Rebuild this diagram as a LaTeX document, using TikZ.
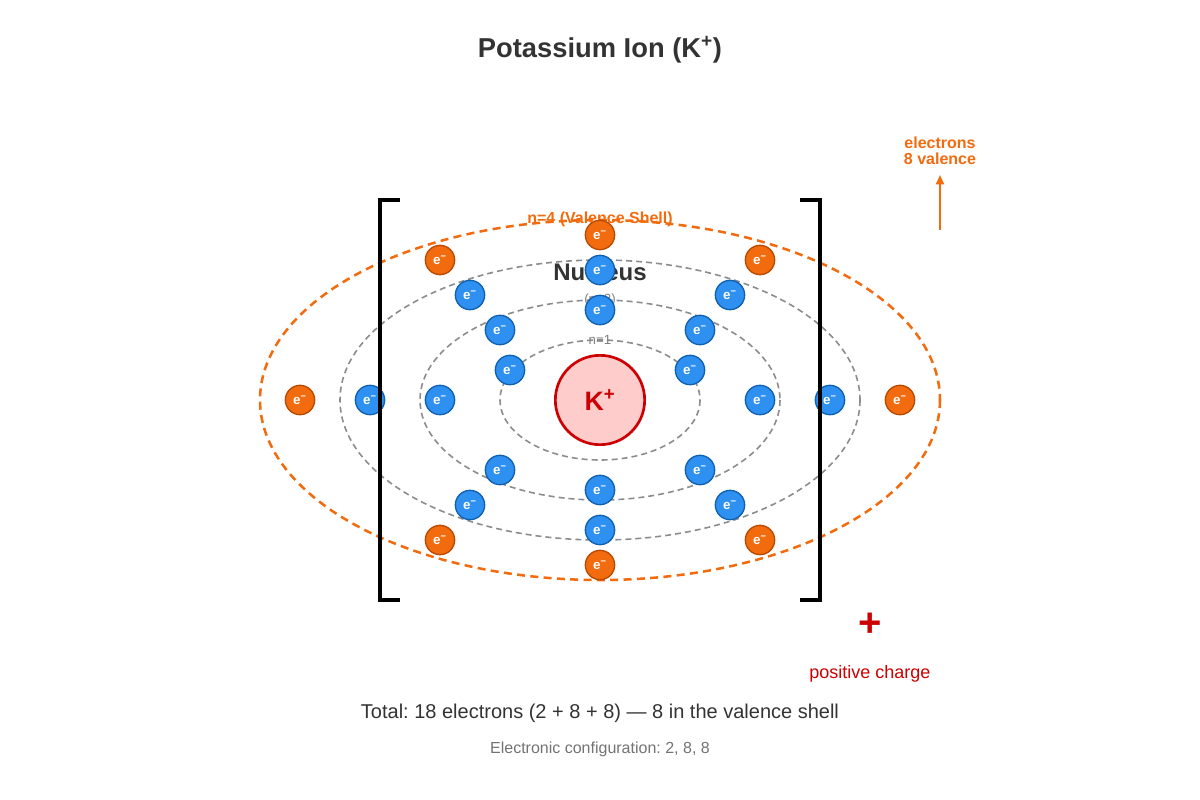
\documentclass[tikz,border=0pt]{standalone}
\usepackage{fontspec}
\setmainfont{Liberation Sans}
\frenchspacing
\usetikzlibrary{arrows.meta}
\definecolor{orng}{HTML}{F26B0F}
\definecolor{blu}{HTML}{2E90F0}
\definecolor{dblu}{HTML}{1060B0}
\definecolor{dorng}{HTML}{B84A00}
\definecolor{kred}{HTML}{CC0000}
\definecolor{kfill}{HTML}{FFCCCC}
\definecolor{txt}{HTML}{333333}
\newcommand{\elec}{e\textsuperscript{\textminus}}
\begin{document}
\begin{tikzpicture}[x=0.75pt,y=-0.75pt,
  shell/.style={draw=gray!90,dashed,line width=1.2pt,dash pattern=on 4.5pt off 3pt},
  vshell/.style={draw=orng,line width=1.9pt,dash pattern=on 6pt off 4pt},
  eb/.style={circle,draw=dblu,fill=blu,line width=1pt,minimum size=22pt,inner sep=0pt,text=white,font=\fontsize{10}{10}\selectfont\bfseries},
  eo/.style={circle,draw=dorng,fill=orng,line width=1pt,minimum size=22pt,inner sep=0pt,text=white,font=\fontsize{10}{10}\selectfont\bfseries},
  brk/.style={line width=3pt}]
\useasboundingbox (0,0) rectangle (1200,800);
\node[font=\fontsize{20.5}{24}\selectfont\bfseries,text=txt] (title) at (600,50) {Potassium Ion (K\textsuperscript{+})};
\draw[vshell] (600,400) ellipse [x radius=340,y radius=180];
\draw[shell] (600,400) ellipse [x radius=260,y radius=140];
\draw[shell] (600,400) ellipse [x radius=180,y radius=100];
\draw[shell] (600,400) ellipse [x radius=100,y radius=60];
\node[font=\fontsize{12}{14}\selectfont\bfseries,text=orng] (l4) at (600,219) {n=4 (Valence Shell)};
\node[font=\fontsize{18}{20}\selectfont\bfseries,text=txt] (nuc) at (600,272) {Nucleus};
\node[font=\fontsize{10}{12}\selectfont,text=gray] (l2) at (600,300) {(n=2)};
\node[font=\fontsize{10}{12}\selectfont,text=gray] (l1) at (600,340) {n=1};
\node[circle,draw=kred,fill=kfill,line width=2pt,minimum size=67pt,inner sep=0pt,text=kred,font=\fontsize{20}{22}\selectfont\bfseries] (K) at (600,400) {K\textsuperscript{+}};
\foreach \p [count=\i] in {(510,370),(690,370)} \node[eb] (a\i) at \p {\elec};
\foreach \p [count=\i] in {(600,310),(500,330),(700,330),(440,400),(760,400),(500,470),(700,470),(600,490)} \node[eb] (b\i) at \p {\elec};
\foreach \p [count=\i] in {(600,270),(470,295),(730,295),(370,400),(830,400),(470,505),(730,505),(600,530)} \node[eb] (c\i) at \p {\elec};
\foreach \p [count=\i] in {(600,235),(440,260),(760,260),(300,400),(900,400),(440,540),(760,540),(600,565)} \node[eo] (d\i) at \p {\elec};
\draw[brk] (400,200) -- (380,200) -- (380,600) -- (400,600);
\draw[brk] (800,200) -- (820,200) -- (820,600) -- (800,600);
\node[font=\fontsize{30}{30}\selectfont\bfseries,text=kred] (plus) at (870,625) {+};
\node[font=\fontsize{13.5}{16}\selectfont,text=kred] (pc) at (870,674) {positive charge};
\node[font=\fontsize{12}{13}\selectfont\bfseries,text=orng,align=center] (val) at (940,151) {electrons\\[-1pt]8 valence};
\coordinate (arrS) at (940,230);
\coordinate (arrE) at (940,175);
\draw[orng,line width=1.5pt,-{Triangle[length=7pt,width=6pt]}] (arrS) -- (arrE);
\node[font=\fontsize{15}{18}\selectfont,text=txt] (tot) at (600,713) {Total: 18 electrons (2 + 8 + 8) — 8 in the valence shell};
\node[font=\fontsize{12}{14}\selectfont,text=gray!90!black] (cfg) at (600,749) {Electronic configuration: 2, 8, 8};
\end{tikzpicture}
\end{document}
